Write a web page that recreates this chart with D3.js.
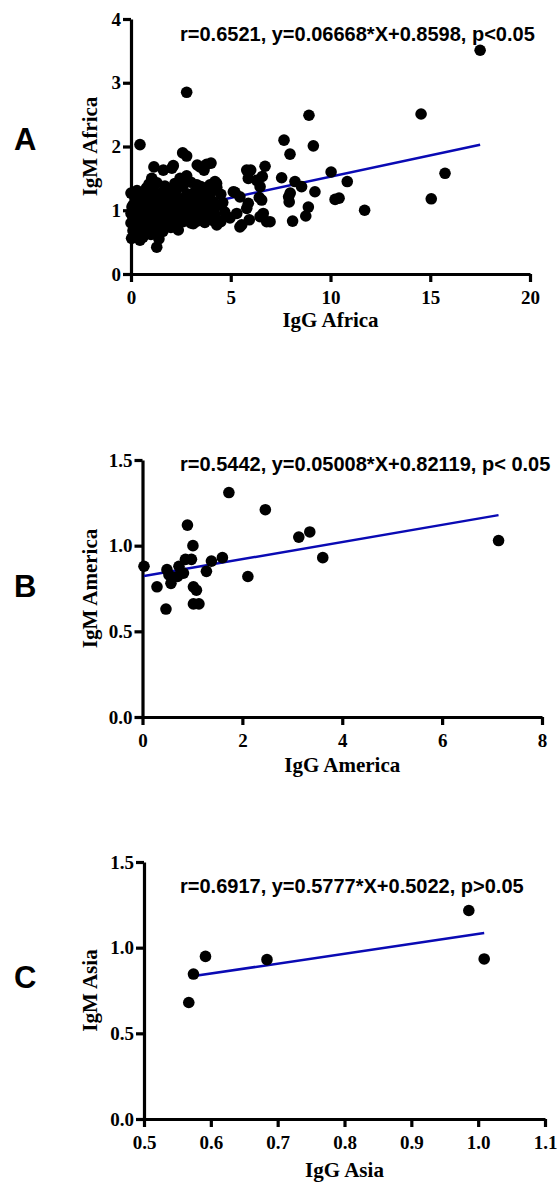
<!DOCTYPE html>
<html lang="en">
<head>
    <meta charset="UTF-8">
    <title>IgG vs IgM by region</title>
    <script src="https://d3js.org/d3.v7.min.js"></script>
    <style>
        body {
            margin: 0;
            background: #fff;
        }
        svg {
            display: block;
        }
        .axis path, .axis line {
            stroke: #000;
            stroke-width: 3.2;
        }
        .axis text {
            font-family: "Liberation Serif", "Times New Roman", serif;
            font-weight: bold;
            font-size: 19px;
            fill: #000;
        }
        .axis-title {
            font-family: "Liberation Serif", "Times New Roman", serif;
            font-weight: bold;
            font-size: 21px;
        }
        .panel-letter {
            font-family: "Liberation Sans", Arial, sans-serif;
            font-weight: bold;
            font-size: 31px;
        }
        .stats {
            font-family: "Liberation Sans", Arial, sans-serif;
            font-weight: bold;
            font-size: 20px;
        }
    </style>
</head>
<body>
<svg id="chart" width="558" height="1183"></svg>
<script>
    // IgG / IgM pairs
    const africaPoints = [
        [17.5, 3.51], [8.92, 2.49], [14.54, 2.51], [7.67, 2.10], [9.14, 2.01], [7.97, 1.88],
        [10.03, 1.60], [15.74, 1.58], [7.55, 1.51], [8.22, 1.45], [8.55, 1.37], [10.84, 1.45],
        [9.22, 1.29], [7.98, 1.27], [7.9, 1.21], [7.93, 1.13], [10.23, 1.17], [10.43, 1.19],
        [15.05, 1.18], [8.89, 1.05], [8.76, 0.91], [8.1, 0.83], [11.71, 1.00], [6.97, 0.82],
        [2.79, 2.85], [0.45, 2.03], [2.59, 1.90], [2.79, 1.85], [4.01, 1.74], [3.32, 1.71],
        [3.66, 1.63], [2.12, 1.70], [1.15, 1.68], [1.62, 1.63], [6.72, 1.69], [6.0, 1.63],
        [5.88, 1.50], [6.58, 1.53], [4.29, 1.42], [2.79, 1.54], [0, 1.27], [5.21, 1.28],
        [5.46, 1.21], [5.88, 1.11], [5.8, 1.03], [6.47, 1.37], [6.55, 1.16], [6.63, 0.95],
        [6.8, 0.82], [5.46, 0.74], [5.93, 0.85], [4.96, 0.88], [4.30, 0.77], [1.29, 0.42],
        [0.45, 0.53], [0.03, 0.56], [0.2, 0.69], [2.37, 0.69], [3.12, 0.79], [5.13, 1.29],
        [5.3, 0.95], [5.55, 0.77], [6.3, 1.47], [6.43, 1.2], [6.47, 0.9], [5.8, 1.63],
        [1.04, 1.5], [0.78, 1.35], [2.46, 1.5], [3.3, 1.4], [3.62, 1.35], [3.96, 1.4],
        [4.21, 1.45], [3.46, 1.68], [3.79, 1.72], [2.05, 1.66], [0, 0.95], [0, 0.8],
        [0.05, 1.05],
        [0.9, 1.41], [1.3, 1.43], [1.7, 1.38], [2.2, 1.42], [2.6, 1.39], [3.0, 1.44],
        [3.5, 1.37], [3.9, 1.33], [4.3, 1.36],
        [0.3, 1.31], [0.7, 1.28], [1.1, 1.32], [1.5, 1.27], [1.9, 1.30], [2.3, 1.33],
        [2.8, 1.26], [3.2, 1.29], [3.6, 1.24], [4.0, 1.28], [4.5, 1.25],
        [0.2, 1.18], [0.6, 1.21], [1.0, 1.17], [1.4, 1.20], [1.8, 1.16], [2.1, 1.22],
        [2.5, 1.18], [2.9, 1.15], [3.3, 1.19], [3.7, 1.16], [4.1, 1.14], [4.6, 1.12],
        [0.1, 1.08], [0.5, 1.11], [0.9, 1.06], [1.3, 1.09], [1.7, 1.05], [2.0, 1.10],
        [2.4, 1.07], [2.8, 1.04], [3.1, 1.09], [3.5, 1.06], [3.9, 1.03], [4.3, 1.07],
        [0.3, 0.98], [0.7, 1.01], [1.1, 0.96], [1.5, 0.99], [1.9, 0.95], [2.2, 1.00],
        [2.6, 0.97], [3.0, 0.94], [3.4, 0.99], [3.8, 0.96], [4.2, 0.93], [4.7, 0.97],
        [0.1, 0.88], [0.5, 0.91], [0.9, 0.86], [1.2, 0.89], [1.6, 0.85], [2.0, 0.90],
        [2.4, 0.87], [2.7, 0.84], [3.1, 0.88], [3.5, 0.85], [3.9, 0.87], [4.4, 0.84],
        [0.3, 0.78], [0.7, 0.80], [1.0, 0.76], [1.4, 0.79], [1.8, 0.81], [2.2, 0.78],
        [2.6, 0.82], [3.0, 0.80], [3.3, 0.83], [3.7, 0.81], [4.1, 0.84], [4.5, 0.82],
        [0.1, 0.68], [0.5, 0.71], [0.8, 0.66], [1.2, 0.70], [1.6, 0.67], [2.0, 0.73],
        [0.2, 0.60], [0.6, 0.58], [1.0, 0.62], [1.4, 0.55]
    ];
    const americaPoints = [
        [0.03, 0.88], [0.29, 0.76], [0.47, 0.63], [0.49, 0.86], [0.53, 0.83], [0.57, 0.78],
        [0.70, 0.82], [0.73, 0.88], [0.82, 0.84], [0.86, 0.92], [0.90, 1.12], [0.98, 0.92],
        [1.01, 1.00], [1.02, 0.76], [1.08, 0.74], [1.02, 0.66], [1.13, 0.66], [1.28, 0.85],
        [1.38, 0.91], [1.60, 0.93], [1.73, 1.31], [2.11, 0.82], [2.46, 1.21], [3.13, 1.05],
        [3.35, 1.08], [3.61, 0.93], [7.13, 1.03]
    ];
    const asiaPoints = [
        [0.567, 0.68], [0.574, 0.846], [0.592, 0.949], [0.684, 0.93], [0.986, 1.217], [1.009, 0.934]
    ];

    // [slope, intercept] of each regression line
    const africaFit = [0.06668, 0.8598];
    const americaFit = [0.05008, 0.82119];
    const asiaFit = [0.5777, 0.5022];

    const africaXTicks = [0, 5, 10, 15, 20];
    const africaYTicks = [0, 1, 2, 3, 4];
    const americaXTicks = [0, 2, 4, 6, 8];
    const americaYTicks = [0, 0.5, 1.0, 1.5];
    const asiaXTicks = [0.5, 0.6, 0.7, 0.8, 0.9, 1.0, 1.1];
    const asiaYTicks = [0, 0.5, 1.0, 1.5];

    const panels = [
        {
            letter: 'A', points: africaPoints, fit: africaFit,
            xTicks: africaXTicks, yTicks: africaYTicks,
            xFmt: d3.format('d'), yFmt: d3.format('d'),
            xTitle: 'IgG Africa', yTitle: 'IgM Africa',
            stats: 'r=0.6521, y=0.06668*X+0.8598, p<0.05',
            left: 131, right: 530, top: 19, bottom: 274,
            statsY: 41, letterY: 150, xTitleY: 327
        },
        {
            letter: 'B', points: americaPoints, fit: americaFit,
            xTicks: americaXTicks, yTicks: americaYTicks,
            xFmt: d3.format('d'), yFmt: d3.format('.1f'),
            xTitle: 'IgG America', yTitle: 'IgM America',
            stats: 'r=0.5442, y=0.05008*X+0.82119, p< 0.05',
            left: 142.5, right: 542, top: 460, bottom: 717,
            statsY: 471, letterY: 597, xTitleY: 772
        },
        {
            letter: 'C', points: asiaPoints, fit: asiaFit,
            xTicks: asiaXTicks, yTicks: asiaYTicks,
            xFmt: d3.format('.1f'), yFmt: d3.format('.1f'),
            xTitle: 'IgG Asia', yTitle: 'IgM Asia',
            stats: 'r=0.6917, y=0.5777*X+0.5022, p>0.05',
            left: 144, right: 545, top: 862, bottom: 1119,
            statsY: 893, letterY: 988, xTitleY: 1177
        }
    ];

    const svg = d3.select('#chart');

    panels.forEach(p => {
        const xScale = d3.scaleLinear()
            .domain([p.xTicks[0], p.xTicks[p.xTicks.length - 1]])
            .range([p.left, p.right]);
        const yScale = d3.scaleLinear()
            .domain([p.yTicks[0], p.yTicks[p.yTicks.length - 1]])
            .range([p.bottom, p.top]);

        const g = svg.append('g');

        g.append('g')
            .attr('class', 'axis')
            .attr('transform', `translate(0,${p.bottom})`)
            .call(d3.axisBottom(xScale).tickValues(p.xTicks).tickFormat(p.xFmt)
                .tickSize(8).tickSizeOuter(0).tickPadding(9));

        g.append('g')
            .attr('class', 'axis')
            .attr('transform', `translate(${p.left},0)`)
            .call(d3.axisLeft(yScale).tickValues(p.yTicks).tickFormat(p.yFmt)
                .tickSize(8).tickSizeOuter(0).tickPadding(2));

        // regression line over the data range
        const xs = p.points.map(d => d[0]);
        const x0 = d3.min(xs), x1 = d3.max(xs);
        g.append('line')
            .attr('x1', xScale(x0))
            .attr('y1', yScale(p.fit[0] * x0 + p.fit[1]))
            .attr('x2', xScale(x1))
            .attr('y2', yScale(p.fit[0] * x1 + p.fit[1]))
            .attr('stroke', '#0a0ab4')
            .attr('stroke-width', 2.5);

        g.append('g')
            .selectAll('circle')
            .data(p.points)
            .join('circle')
            .attr('cx', d => xScale(d[0]))
            .attr('cy', d => yScale(d[1]))
            .attr('r', 5.8)
            .attr('fill', '#000');

        g.append('text')
            .attr('class', 'stats')
            .attr('x', 180)
            .attr('y', p.statsY)
            .text(p.stats);

        g.append('text')
            .attr('class', 'axis-title')
            .attr('text-anchor', 'middle')
            .attr('x', (p.left + p.right) / 2)
            .attr('y', p.xTitleY)
            .text(p.xTitle);

        g.append('text')
            .attr('class', 'axis-title')
            .attr('text-anchor', 'middle')
            .attr('transform', `translate(97,${(p.top + p.bottom) / 2}) rotate(-90)`)
            .text(p.yTitle);

        g.append('text')
            .attr('class', 'panel-letter')
            .attr('x', 14)
            .attr('y', p.letterY)
            .text(p.letter);
    });
</script>
</body>
</html>
